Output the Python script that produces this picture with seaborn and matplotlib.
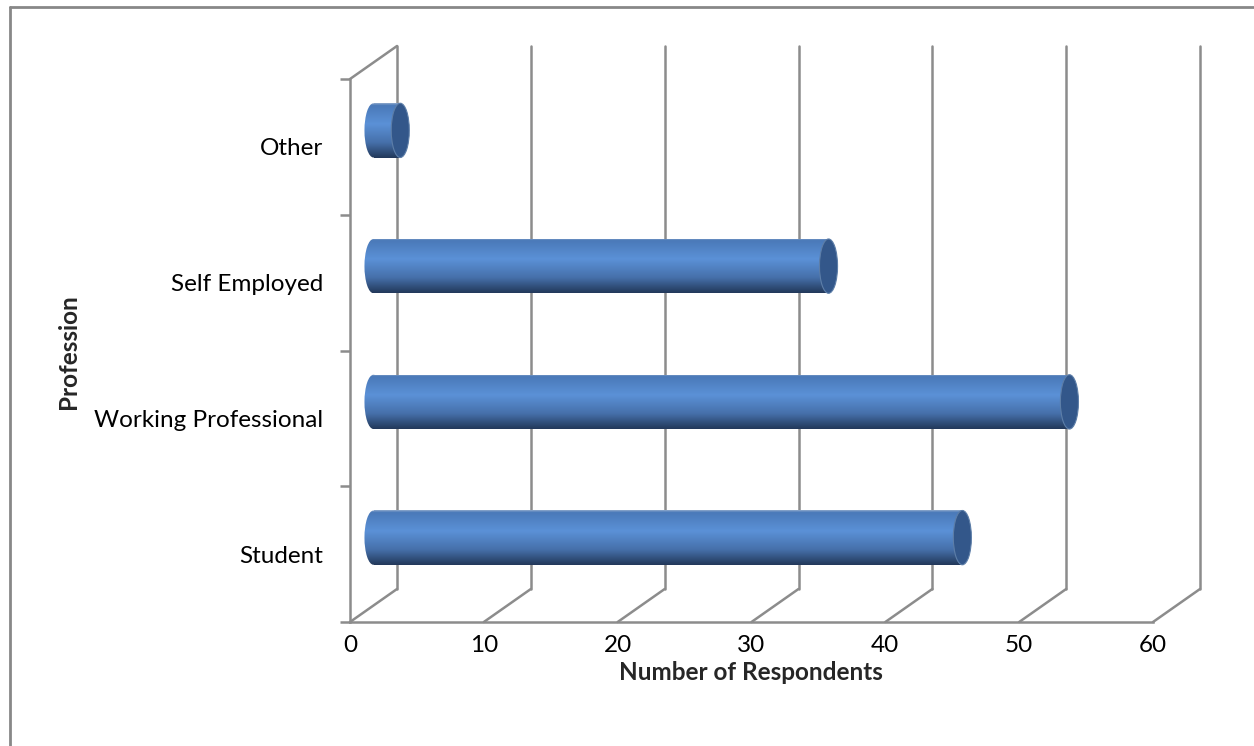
import numpy as np
import pandas as pd
import matplotlib
matplotlib.use("Agg")
import matplotlib.pyplot as plt
import seaborn as sns
from matplotlib.transforms import ScaledTranslation
from matplotlib.patches import Ellipse
from matplotlib.colors import LinearSegmentedColormap
from matplotlib.lines import Line2D

# ---- data ----
categories = ["Other", "Self Employed", "Working Professional", "Student"]
respondents = [2, 34, 52, 44]
x_ticks = [0, 10, 20, 30, 40, 50, 60]
x_label = "Number of Respondents"
y_label = "Profession"

sns.set_theme(style="white")
plt.rcParams['font.family'] = ['Lato', 'DejaVu Sans']

W, H = 1254, 746
fig = plt.figure(figsize=(W / 100, H / 100), dpi=100)
fig.patch.set_facecolor("white")
ax = fig.add_axes([350 / W, (H - 622) / H, 803 / W, 543 / H])
ax.set_facecolor("none")

df = pd.DataFrame({"Profession": categories, "Respondents": respondents})
sns.barplot(data=df, y="Profession", x="Respondents", order=categories,
            orient="h", width=0.4, color="#4f81bd", ax=ax, zorder=3)
ax.set_xlim(0, 60)
ax.set_ylim(len(categories) - 0.5, -0.5)

grid_c = "#8c8c8c"
depth = ScaledTranslation(0.47, 0.33, fig.dpi_scale_trans)
half = ScaledTranslation(0.235, 0.165, fig.dpi_scale_trans)
t_back = ax.transData + depth
t_mid = ax.transData + half

y0, y1 = len(categories) - 0.5, -0.5
# back wall verticals
for xv in x_ticks:
    ax.plot([xv, xv], [y0, y1], color=grid_c, lw=1.8, transform=t_back, clip_on=False, zorder=1)
# floor diagonals: front point to back point
for xv in x_ticks:
    p0 = ax.transData.transform((xv, y0))
    p1 = t_back.transform((xv, y0))
    fig.add_artist(Line2D([p0[0] / W, p1[0] / W], [p0[1] / H, p1[1] / H],
                          color=grid_c, lw=1.8, transform=fig.transFigure, zorder=1))
# left wall top diagonal
p0 = ax.transData.transform((0, y1))
p1 = t_back.transform((0, y1))
fig.add_artist(Line2D([p0[0] / W, p1[0] / W], [p0[1] / H, p1[1] / H],
                      color=grid_c, lw=1.8, transform=fig.transFigure, zorder=1))

# cylinder shading
cmap = LinearSegmentedColormap.from_list("cyl", [
    (0.0, "#8fa9cc"), (0.04, "#4a79b8"), (0.38, "#5b91d7"),
    (0.72, "#4670aa"), (0.92, "#2c4870"), (1.0, "#23385a")])
grad = np.linspace(0, 1, 256).reshape(-1, 1)
cap_w = 1.35
for patch, val in zip(ax.patches, respondents):
    bx, by = patch.get_x(), patch.get_y()
    bw, bh = patch.get_width(), patch.get_height()
    patch.set_transform(t_mid)
    patch.set_facecolor("none")
    patch.set_edgecolor("none")
    im = ax.imshow(grad, cmap=cmap, aspect="auto", interpolation="bilinear",
                   extent=(bx - cap_w, bx + bw, by + bh, by), zorder=3)
    im.set_transform(t_mid)
    im.set_clip_path(patch)
    le = Ellipse((bx, by + bh / 2), cap_w, bh, transform=t_mid, facecolor="none",
                 edgecolor="none")
    ax.add_patch(le)
    im2 = ax.imshow(grad, cmap=cmap, aspect="auto", interpolation="bilinear",
                    extent=(bx - cap_w, bx + bw, by + bh, by), zorder=3)
    im2.set_transform(t_mid)
    im2.set_clip_path(le)
    ax.add_patch(Ellipse((bx + bw, by + bh / 2), cap_w, bh, transform=t_mid,
                         facecolor="#33578a", edgecolor="#5d7ea8", lw=0.8, zorder=4))
ax.set_xlim(0, 60)
ax.set_ylim(len(categories) - 0.5, -0.5)

# axes styling
for s in ["top", "right"]:
    ax.spines[s].set_visible(False)
for s in ["left", "bottom"]:
    ax.spines[s].set_color(grid_c)
    ax.spines[s].set_linewidth(1.8)
    ax.spines[s].set_zorder(1)
fs = 17.5
ax.set_xticks(x_ticks)
ax.set_xticklabels([str(v) for v in x_ticks])
ax.tick_params(axis="x", which="major", direction="out", length=7, width=1.8,
               color=grid_c, pad=2, labelsize=fs, labelcolor="black")
ax.set_yticks(range(len(categories)))
ax.set_yticklabels(categories)
ax.set_yticks(np.arange(-0.5, len(categories), 1.0), minor=True)
ax.tick_params(axis="y", which="major", length=0, pad=19.5, labelsize=fs, labelcolor="black")
ax.tick_params(axis="y", which="minor", direction="out", length=7, width=1.8, color=grid_c, left=True)
ax.set_xlabel("")
ax.set_ylabel("")

fig.text(751 / W, 1 - 673 / H, x_label, ha="center", va="center", fontsize=fs,
         fontweight="bold")
fig.text(68 / W, 1 - 352 / H, y_label, ha="center", va="center", fontsize=fs,
         fontweight="bold", rotation=90)

# outer chart border
fig.add_artist(Line2D([9.5 / W, 9.5 / W], [0, 1 - 6.5 / H], color="#888888", lw=2,
                      transform=fig.transFigure))
fig.add_artist(Line2D([9.5 / W, 1], [1 - 6.5 / H, 1 - 6.5 / H], color="#888888", lw=2,
                      transform=fig.transFigure))

fig.savefig("out.png", dpi=100)
